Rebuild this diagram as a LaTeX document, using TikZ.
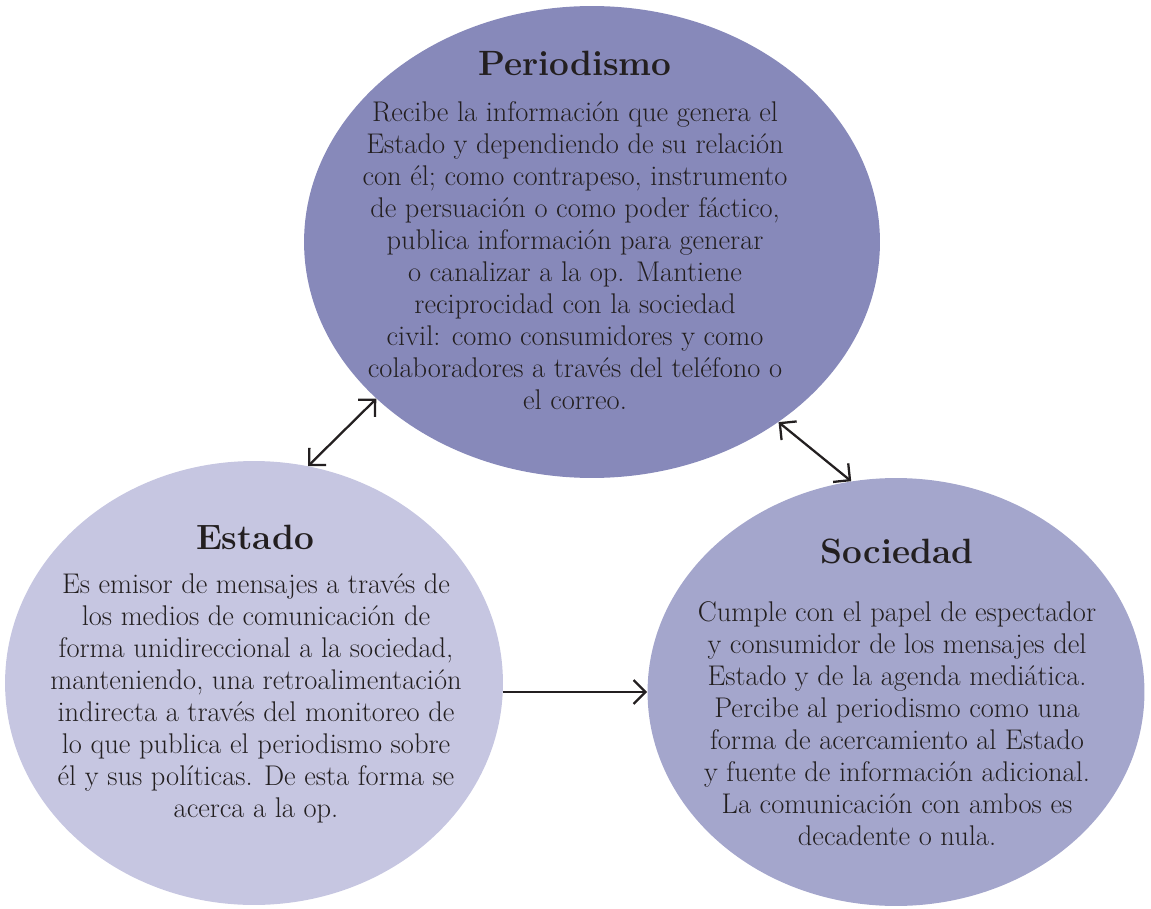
\documentclass[tikz,border=0pt]{standalone}
\usepackage{amssymb,amsmath}
\usetikzlibrary{shapes.geometric,arrows.meta}
\definecolor{perfill}{HTML}{8789BA}
\definecolor{estfill}{HTML}{C6C6E1}
\definecolor{socfill}{HTML}{A4A6CC}
\definecolor{ink}{HTML}{231F20}

\begin{document}
\begin{tikzpicture}[x=0.02cm, y=-0.02cm,
  blob/.style={ellipse, draw=none, inner sep=0pt},
  title/.style={text=ink, font=\fontsize{20}{24}\selectfont\bfseries},
  body/.style={text=ink, align=center, font=\fontsize{16.2}{18.2}\selectfont},
  link/.style={ink, line width=1.3pt, {Straight Barb[length=2.4mm,width=4.8mm]}-{Straight Barb[length=2.4mm,width=4.8mm]}},
  onelink/.style={ink, line width=1.3pt, -{Straight Barb[length=2.4mm,width=4.8mm]}}]

%\draw[help lines] (0,0) grid (1151,908);
\useasboundingbox (0,0) rectangle (1151,908);

\node[blob, fill=perfill, minimum width=11.52cm, minimum height=9.44cm] (per) at (592,242) {};
\node[blob, fill=estfill, minimum width=9.96cm, minimum height=8.88cm] (est) at (254,683) {};
\node[blob, fill=socfill, minimum width=9.94cm, minimum height=8.56cm] (soc) at (896,692) {};

\node[title] (pertitle) at (575,63) {Periodismo};
\node[body] (pertext) at (575,256) {Recibe la información que genera el\\
Estado y dependiendo de su relación\\
con él; como contrapeso, instrumento\\
de persuación o como poder fáctico,\\
publica información para generar\\
o canalizar a la op. Mantiene\\
reciprocidad con la sociedad\\
civil: como consumidores y como\\
colaboradores a través del teléfono o\\
el correo.};

\node[title] (esttitle) at (255,537) {Estado};
\node[body] (esttext) at (256,698) {Es emisor de mensajes a través de\\
los medios de comunicación de\\
forma unidireccional a la sociedad,\\
manteniendo, una retroalimentación\\
indirecta a través del monitoreo de\\
lo que publica el periodismo sobre\\
él y sus políticas. De esta forma se\\
acerca a la op.};

\node[title] (soctitle) at (897,551) {Sociedad};
\node[body] (soctext) at (897,724) {Cumple con el papel de espectador\\
y consumidor de los mensajes del\\
Estado y de la agenda mediática.\\
Percibe al periodismo como una\\
forma de acercamiento al Estado\\
y fuente de información adicional.\\
La comunicación con ambos es\\
decadente o nula.};

\draw[link] (est.76) -- (per.216);
\draw[link] (per.316) -- (soc.102);
\draw[onelink] (est.east |- soc.west) -- (soc.west);

\end{tikzpicture}
\end{document}
